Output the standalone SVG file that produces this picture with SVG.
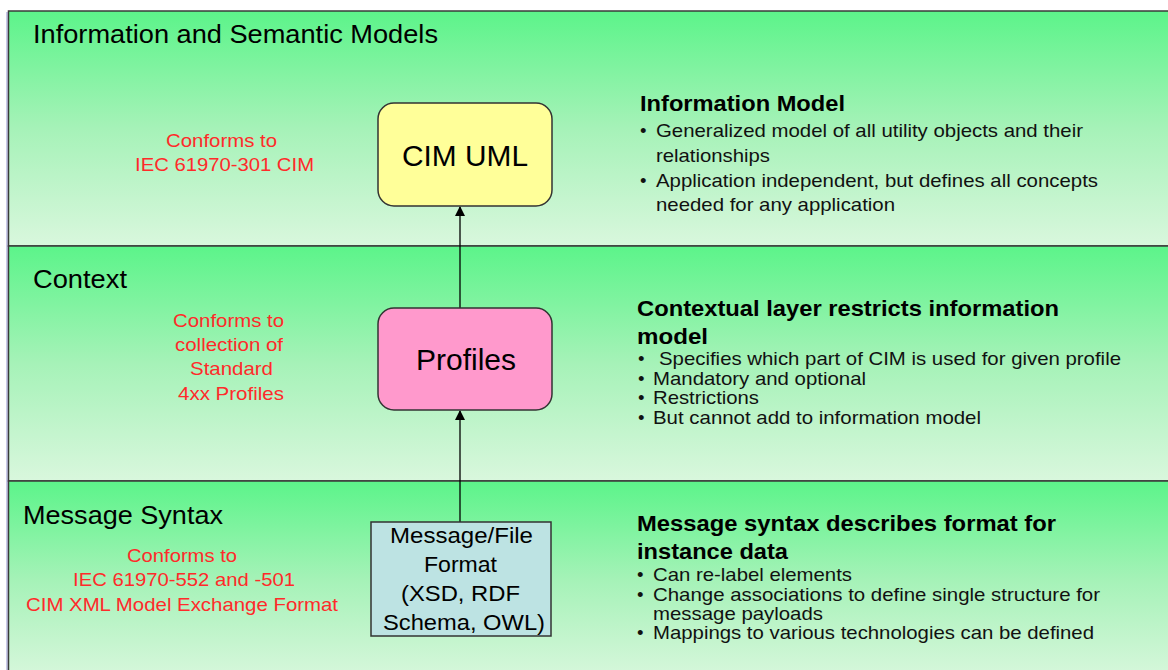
<svg xmlns="http://www.w3.org/2000/svg" width="1168" height="670" viewBox="0 0 1168 670">
<style>
text{font-family:"Liberation Sans",Arial,sans-serif;}
.band{stroke:#3a3a3a;stroke-width:1.5;}
.title{font-size:25.5px;fill:#000;}
.red{font-size:19px;fill:#ff2a2a;text-anchor:middle;}
.head{font-size:22px;font-weight:bold;fill:#000;}
.body{font-size:18.5px;fill:#111;}
.node{stroke:#333;stroke-width:1.5;}
.ntext{fill:#000;text-anchor:middle;}
.conn{stroke:#000;stroke-width:1.3;fill:none;}
</style>
<defs>
<linearGradient id="g" x1="0" y1="0" x2="0" y2="1">
<stop offset="0" stop-color="#5cf48a"/>
<stop offset="0.5" stop-color="#a6f2b8"/>
<stop offset="1" stop-color="#d9f7dd"/>
</linearGradient>
<marker id="arr" markerWidth="10" markerHeight="10" refX="9" refY="5" orient="auto" markerUnits="userSpaceOnUse">
<path d="M0,0 L10,5 L0,10 Z" fill="#000"/>
</marker>
</defs>
<rect x="0" y="0" width="1168" height="670" fill="#fff"/>
<rect x="6" y="12" width="2" height="658" fill="#c8c8e8"/>
<g id="band1">
<rect class="band" x="8.5" y="11" width="1170" height="235" fill="url(#g)"/>
<text class="title" x="33" y="43" textLength="405" lengthAdjust="spacingAndGlyphs">Information and Semantic Models</text>
<text class="red" x="221.5" y="147" textLength="111" lengthAdjust="spacingAndGlyphs">Conforms to</text>
<text class="red" x="224.5" y="171" textLength="179" lengthAdjust="spacingAndGlyphs">IEC 61970-301 CIM</text>
<text class="head" x="640" y="111" textLength="205" lengthAdjust="spacingAndGlyphs">Information Model</text>
<text class="body" x="640" y="137">•</text>
<text class="body" x="656" y="137" textLength="427" lengthAdjust="spacingAndGlyphs">Generalized model of all utility objects and their</text>
<text class="body" x="656" y="162" textLength="114" lengthAdjust="spacingAndGlyphs">relationships</text>
<text class="body" x="640" y="187">•</text>
<text class="body" x="656" y="187" textLength="442" lengthAdjust="spacingAndGlyphs">Application independent, but defines all concepts</text>
<text class="body" x="656" y="211" textLength="239" lengthAdjust="spacingAndGlyphs">needed for any application</text>
</g>
<g id="band2">
<rect class="band" x="8.5" y="246" width="1170" height="235" fill="url(#g)"/>
<text class="title" x="33" y="288" textLength="94" lengthAdjust="spacingAndGlyphs">Context</text>
<text class="red" x="228.5" y="327" textLength="111" lengthAdjust="spacingAndGlyphs">Conforms to</text>
<text class="red" x="229" y="351" textLength="108" lengthAdjust="spacingAndGlyphs">collection of</text>
<text class="red" x="231.5" y="375" textLength="83" lengthAdjust="spacingAndGlyphs">Standard</text>
<text class="red" x="231" y="400" textLength="106" lengthAdjust="spacingAndGlyphs">4xx Profiles</text>
<text class="head" x="637" y="316" textLength="422" lengthAdjust="spacingAndGlyphs">Contextual layer restricts information</text>
<text class="head" x="637" y="344" textLength="71" lengthAdjust="spacingAndGlyphs">model</text>
<text class="body" x="638" y="365">•</text>
<text class="body" x="659" y="365" textLength="462" lengthAdjust="spacingAndGlyphs">Specifies which part of CIM is used for given profile</text>
<text class="body" x="638" y="385">•</text>
<text class="body" x="653" y="385" textLength="213" lengthAdjust="spacingAndGlyphs">Mandatory and optional</text>
<text class="body" x="638" y="404">•</text>
<text class="body" x="653" y="404" textLength="106" lengthAdjust="spacingAndGlyphs">Restrictions</text>
<text class="body" x="638" y="424">•</text>
<text class="body" x="653" y="424" textLength="328" lengthAdjust="spacingAndGlyphs">But cannot add to information model</text>
</g>
<g id="band3">
<rect class="band" x="8.5" y="481" width="1170" height="200" fill="url(#g)"/>
<text class="title" x="23" y="524" textLength="200" lengthAdjust="spacingAndGlyphs">Message Syntax</text>
<text class="red" x="182" y="562" textLength="110" lengthAdjust="spacingAndGlyphs">Conforms to</text>
<text class="red" x="184" y="586" textLength="222" lengthAdjust="spacingAndGlyphs">IEC 61970-552 and -501</text>
<text class="red" x="182" y="611" textLength="312" lengthAdjust="spacingAndGlyphs">CIM XML Model Exchange Format</text>
<text class="head" x="637" y="531" textLength="419" lengthAdjust="spacingAndGlyphs">Message syntax describes format for</text>
<text class="head" x="637" y="559" textLength="151" lengthAdjust="spacingAndGlyphs">instance data</text>
<text class="body" x="637" y="581">•</text>
<text class="body" x="653" y="581" textLength="199" lengthAdjust="spacingAndGlyphs">Can re-label elements</text>
<text class="body" x="637" y="601">•</text>
<text class="body" x="653" y="601" textLength="447" lengthAdjust="spacingAndGlyphs">Change associations to define single structure for</text>
<text class="body" x="653" y="620" textLength="170" lengthAdjust="spacingAndGlyphs">message payloads</text>
<text class="body" x="637" y="639">•</text>
<text class="body" x="653" y="639" textLength="441" lengthAdjust="spacingAndGlyphs">Mappings to various technologies can be defined</text>
</g>
<g id="connectors">
<line class="conn" x1="460" y1="308" x2="460" y2="207" marker-end="url(#arr)"/>
<line class="conn" x1="460" y1="522" x2="460" y2="411" marker-end="url(#arr)"/>
</g>
<g id="cim-uml">
<rect class="node" x="378" y="103" width="174" height="103" rx="16" fill="#ffff99"/>
<text class="ntext" x="465" y="166" font-size="30" textLength="126" lengthAdjust="spacingAndGlyphs">CIM UML</text>
</g>
<g id="profiles">
<rect class="node" x="378" y="308" width="174" height="102" rx="16" fill="#ff99cc"/>
<text class="ntext" x="466" y="370" font-size="30" textLength="100" lengthAdjust="spacingAndGlyphs">Profiles</text>
</g>
<g id="message-format">
<rect class="node" x="371" y="522" width="180" height="114" fill="#bde3e3"/>
<text class="ntext" x="461.5" y="543" font-size="22" textLength="143" lengthAdjust="spacingAndGlyphs">Message/File</text>
<text class="ntext" x="460.5" y="572" font-size="22" textLength="73" lengthAdjust="spacingAndGlyphs">Format</text>
<text class="ntext" x="460.5" y="601" font-size="22" textLength="119" lengthAdjust="spacingAndGlyphs">(XSD, RDF</text>
<text class="ntext" x="464" y="630" font-size="22" textLength="162" lengthAdjust="spacingAndGlyphs">Schema, OWL)</text>
</g>
</svg>
